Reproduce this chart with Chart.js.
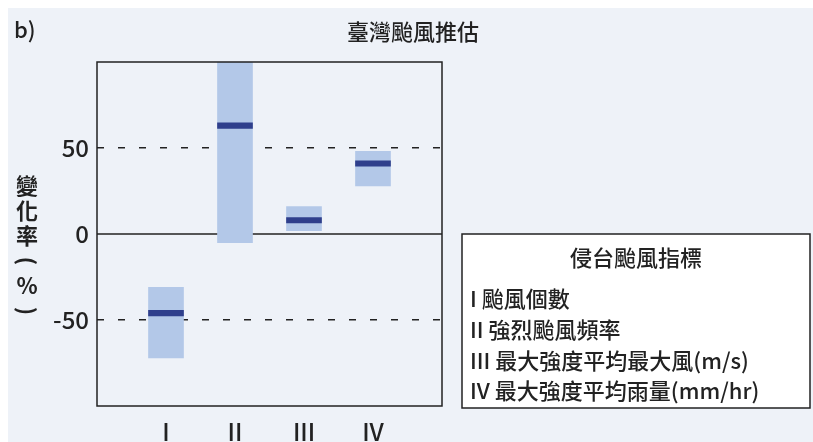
<!DOCTYPE html>
<html>
<head>
<meta charset="utf-8">
<script src="https://cdn.jsdelivr.net/npm/chart.js@4"></script>
<style>
  body { margin: 0; background: #fff; }
  #wrap { position: absolute; left: 8px; top: 8px; width: 805px; height: 434px; background: #eef2f8; }
  canvas { position: absolute; left: -8px; top: -8px; }
</style>
</head>
<body>
<div id="wrap"><canvas id="c" width="813" height="442"></canvas></div>
<script>
// Categories and ranges (percent change)
const categories = ['', 'I', 'II', 'III', 'IV', ''];
const rangeLow = [null, -72, -5, 2, 28, null];
const rangeHigh = [null, -31, 100, 16, 48, null];
const medians = [null, -46, 63, 8, 41, null];
const yTicks = [-50, 0, 50];
const legendTitle = '侵台颱風指標';
const legendLines = ['I 颱風個數', 'II 強烈颱風頻率', 'III 最大強度平均最大風(m/s)', 'IV 最大強度平均雨量(mm/hr)'];

const font = '"Noto Sans CJK TC", "Noto Sans", sans-serif';

const extras = {
  id: 'extras',
  beforeDatasetsDraw(chart) {
    // solid zero line under the bars
    const ctx = chart.ctx;
    const a = chart.chartArea;
    const y0 = chart.scales.y.getPixelForValue(0);
    ctx.save();
    ctx.strokeStyle = '#222';
    ctx.lineWidth = 1.5;
    ctx.beginPath();
    ctx.moveTo(a.left, y0);
    ctx.lineTo(a.right, y0);
    ctx.stroke();
    ctx.restore();
  },
  afterDraw(chart) {
    const ctx = chart.ctx;
    const a = chart.chartArea;
    ctx.save();
    ctx.strokeStyle = '#222';
    ctx.lineWidth = 1.5;
    ctx.strokeRect(a.left, a.top, a.right - a.left, a.bottom - a.top);
    ctx.fillStyle = '#222';
    ctx.font = '500 22px ' + font;
    ctx.textBaseline = 'middle';
    ctx.fillText('b)', 14, 30);
    ctx.textAlign = 'center';
    ctx.fillText('臺灣颱風推估', 413, 32);
    // vertical axis title
    ctx.font = 'bold 22px ' + font;
    ['變', '化', '率', '(', '%', ')'].forEach((ch, i) => {
      const y = 186 + i * 25;
      if (ch === '(' || ch === ')') {
        ctx.save();
        ctx.translate(27, y);
        ctx.rotate(Math.PI / 2);
        ctx.fillText(ch, 0, 0);
        ctx.restore();
      } else {
        ctx.fillText(ch, 27, y);
      }
    });
    // legend box
    ctx.fillStyle = '#fff';
    ctx.fillRect(462, 234, 348, 174);
    ctx.strokeRect(462, 234, 348, 174);
    ctx.fillStyle = '#222';
    ctx.font = '500 22px ' + font;
    ctx.fillText(legendTitle, 636, 258);
    ctx.textAlign = 'left';
    ctx.font = '500 22px ' + font;
    legendLines.forEach((t, i) => ctx.fillText(t, 470, 299 + i * 30.7, 333));
    ctx.restore();
  }
};

new Chart(document.getElementById('c'), {
  type: 'bar',
  data: {
    labels: categories,
    datasets: [
      {
        data: medians.map(m => m === null ? null : [m - 1.6, m + 1.6]),
        backgroundColor: '#2f3f8c',
        barThickness: 35,
        grouped: false,
        order: 0
      },
      {
        data: rangeLow.map((v, i) => v === null ? null : [v, rangeHigh[i]]),
        backgroundColor: '#b3c8e8',
        barThickness: 35,
        grouped: false,
        order: 1
      }
    ]
  },
  options: {
    responsive: false,
    animation: false,
    layout: { padding: { left: 0, right: 371, top: 62, bottom: 0 } },
    plugins: { legend: { display: false }, tooltip: { enabled: false } },
    scales: {
      x: {
        offset: false,
        afterFit: s => { s.height = 36; },
        grid: { display: false },
        border: { display: false },
        ticks: {
          color: '#222', font: { size: 24, family: font, weight: 500 }, padding: 3,
          autoSkip: false, maxRotation: 0
        }
      },
      y: {
        min: -100, max: 100,
        afterFit: s => { s.width = 97; },
        afterBuildTicks: s => { s.ticks = yTicks.map(v => ({ value: v })); },
        border: { display: false, dash: [7, 14] },
        grid: {
          color: c => c.tick.value === 0 ? 'rgba(0,0,0,0)' : '#222',
          lineWidth: 1.5,
          drawTicks: false
        },
        ticks: { color: '#222', font: { size: 24, family: font, weight: 500 }, padding: 8 }
      }
    }
  },
  plugins: [extras]
});
</script>
</body>
</html>
